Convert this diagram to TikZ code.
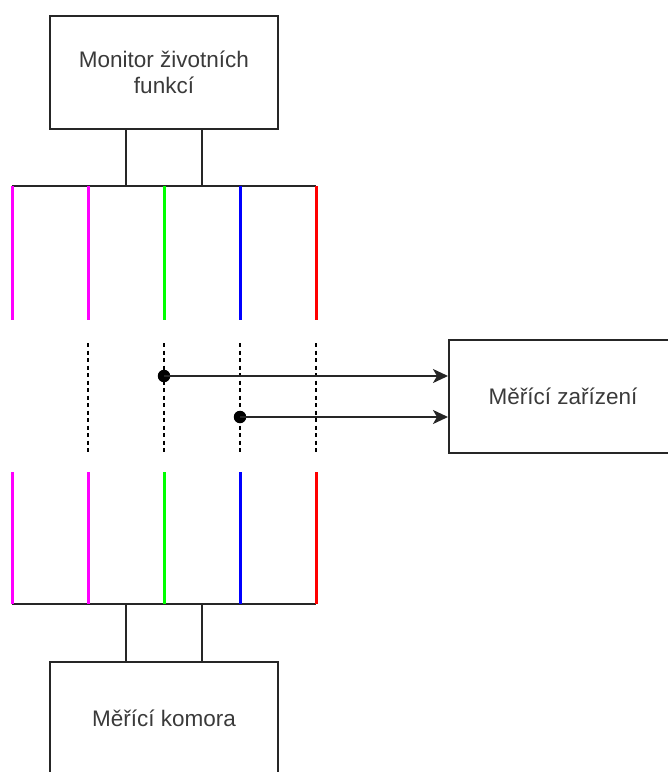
\documentclass[tikz,border=0pt]{standalone}
\usepackage{fontspec}
\setmainfont{Liberation Sans}
\usetikzlibrary{arrows.meta,calc}
\definecolor{txt}{HTML}{3A3A3A}
\definecolor{wmag}{HTML}{FF00FF}
\definecolor{wgrn}{HTML}{00FF00}
\definecolor{wblu}{HTML}{0000FF}
\definecolor{wred}{HTML}{FF0000}
\tikzset{
  unit/.style={draw=black!85, line width=2pt, minimum width=228pt, minimum height=113pt,
    inner sep=0pt, align=center, text=txt,
    font=\fontsize{22.5pt}{26pt}\selectfont},
  wire/.style={draw=black!85, line width=2pt},
  lead/.style={line width=3pt},
  gap/.style={draw=black, line width=1.6pt, dash pattern=on 4pt off 3.5pt},
  tap/.style={fill=black, circle, inner sep=0pt, minimum size=12.5pt},
  feed/.style={draw=black!85, line width=2pt, -{Stealth[length=15pt,width=14pt,inset=4pt]}}
}
\begin{document}
\begin{tikzpicture}[x=1pt,y=-1pt]
\useasboundingbox (0,0) rectangle (668,772);

% devices
\node[unit] (mon) at (164,72.5) {Monitor životních\\funkcí};
\node[unit] (kom) at (164,718.5) {Měřící komora};
\node[unit] (mer) at (563,396) {Měřící zařízení};

% upper bus
\coordinate (tl) at (12,186);
\coordinate (tr) at (316,186);
\coordinate (ta) at (126,186);
\coordinate (tb) at (202,186);
\draw[wire] (tl) -- (tr);
\draw[wire] (ta |- mon.south) -- (ta);
\draw[wire] (tb |- mon.south) -- (tb);

% lower bus
\coordinate (bl) at (12,604);
\coordinate (br) at (316,604);
\coordinate (ba) at (126,604);
\coordinate (bb) at (202,604);
\draw[wire] (bl) -- (br);
\draw[wire] (ba) -- (ba |- kom.north);
\draw[wire] (bb) -- (bb |- kom.north);

% upper leads
\coordinate (u1) at (12,186);  \coordinate (u1e) at (12,320);
\coordinate (u2) at (88,186);  \coordinate (u2e) at (88,320);
\coordinate (u3) at (164,186); \coordinate (u3e) at (164,320);
\coordinate (u4) at (240,186); \coordinate (u4e) at (240,320);
\coordinate (u5) at (316,186); \coordinate (u5e) at (316,320);
\draw[lead, wmag] (u1) -- (u1e);
\draw[lead, wmag] (u2) -- (u2e);
\draw[lead, wgrn] (u3) -- (u3e);
\draw[lead, wblu] (u4) -- (u4e);
\draw[lead, wred] (u5) -- (u5e);

% lower leads
\coordinate (l1) at (12,472);  \coordinate (l1e) at (12,604);
\coordinate (l2) at (88,472);  \coordinate (l2e) at (88,604);
\coordinate (l3) at (164,472); \coordinate (l3e) at (164,604);
\coordinate (l4) at (240,472); \coordinate (l4e) at (240,604);
\coordinate (l5) at (316,472); \coordinate (l5e) at (316,604);
\draw[lead, wmag] (l1) -- (l1e);
\draw[lead, wmag] (l2) -- (l2e);
\draw[lead, wgrn] (l3) -- (l3e);
\draw[lead, wblu] (l4) -- (l4e);
\draw[lead, wred] (l5) -- (l5e);

% interrupted section
\coordinate (g2) at (88,343);  \coordinate (g2e) at (88,453);
\coordinate (g3) at (164,343); \coordinate (g3e) at (164,453);
\coordinate (g4) at (240,343); \coordinate (g4e) at (240,453);
\coordinate (g5) at (316,343); \coordinate (g5e) at (316,453);
\draw[gap] (g2) -- (g2e);
\draw[gap] (g3) -- (g3e);
\draw[gap] (g4) -- (g4e);
\draw[gap] (g5) -- (g5e);

% taps to the measuring device
\node[tap] (p1) at (164,376) {};
\node[tap] (p2) at (240,417) {};
\draw[feed] (p1.center) -- (p1 -| mer.west);
\draw[feed] (p2.center) -- (p2 -| mer.west);
\end{tikzpicture}
\end{document}
